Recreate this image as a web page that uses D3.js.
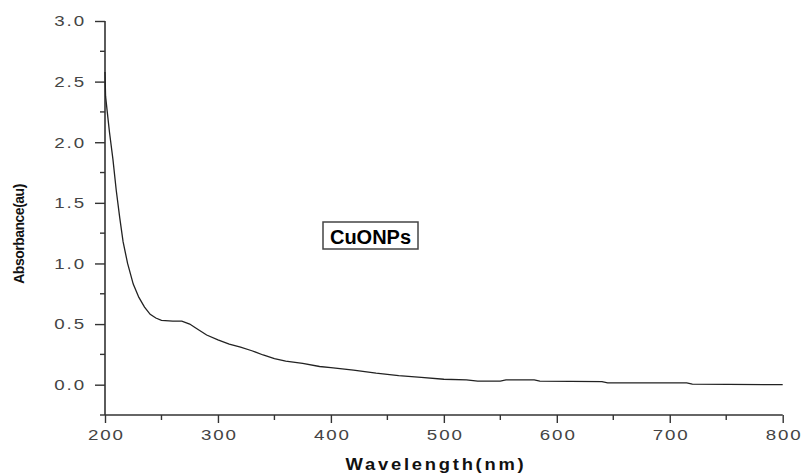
<!DOCTYPE html>
<html>
<head>
<meta charset="utf-8">
<script src="https://cdn.jsdelivr.net/npm/d3@7"></script>
<style>
  body { margin: 0; background: #fff; }
  svg { font-family: "Liberation Sans", Arial, sans-serif; }
</style>
</head>
<body>
<div id="chart"></div>
<script>
// data
var wavelength = [200, 200.5, 202, 204, 207, 210, 213, 216, 220, 225, 230, 235, 240, 245, 250,
  260, 268, 275, 280, 290, 300, 310, 320, 330, 340, 350, 360, 375, 390, 400, 420, 440, 460,
  480, 500, 520, 530, 550, 555, 580, 585, 640, 645, 715, 720, 800];
var absorbance = [2.58, 2.38, 2.25, 2.08, 1.86, 1.60, 1.38, 1.18, 1.00, 0.83, 0.72, 0.64, 0.58, 0.55, 0.53,
  0.525, 0.525, 0.50, 0.47, 0.41, 0.37, 0.335, 0.31, 0.28, 0.245, 0.215, 0.195, 0.175, 0.15, 0.14, 0.12, 0.095, 0.075,
  0.06, 0.045, 0.04, 0.03, 0.03, 0.04, 0.04, 0.03, 0.025, 0.015, 0.015, 0.005, 0.0];
var xTicks = [200, 300, 400, 500, 600, 700, 800];
var xMinor = [250, 350, 450, 550, 650, 750];
var yTicks = [0.0, 0.5, 1.0, 1.5, 2.0, 2.5, 3.0];
var yMinor = [-0.25, 0.25, 0.75, 1.25, 1.75, 2.25, 2.75];
var sampleLabel = 'CuONPs';

var width = 803, height = 475;
var margin = { left: 105, right: 782.7, top: 21, bottom: 415 };
var stretch = 1.25;

var svg = d3.select('#chart').append('svg')
  .attr('width', width)
  .attr('height', height);

var x = d3.scaleLinear().domain([200, 800]).range([margin.left, margin.right]);
var y = d3.scaleLinear().domain([-0.25, 3.0]).range([margin.bottom, margin.top]);

// 坐标轴
var xAxis = svg.append('g')
  .attr('transform', 'translate(0,' + margin.bottom + ')')
  .call(d3.axisBottom(x).tickValues(xTicks).tickFormat(d3.format('d')).tickSize(8).tickPadding(6));
xAxis.append('g').attr('class', 'minor').selectAll('line')
  .data(xMinor).enter().append('line')
  .attr('x1', function (d) { return x(d); })
  .attr('x2', function (d) { return x(d); })
  .attr('y1', 0).attr('y2', 5);

var yAxis = svg.append('g')
  .attr('transform', 'translate(' + margin.left + ',0)')
  .call(d3.axisLeft(y).tickValues(yTicks).tickFormat(d3.format('.1f')).tickSize(10).tickPadding(9));
yAxis.append('g').attr('class', 'minor').selectAll('line')
  .data(yMinor).enter().append('line')
  .attr('x1', 0).attr('x2', -5)
  .attr('y1', function (d) { return y(d); })
  .attr('y2', function (d) { return y(d); });

xAxis.select('.domain').attr('d', 'M' + margin.left + ',0H' + margin.right);
yAxis.select('.domain').attr('d', 'M0,' + margin.top + 'V' + margin.bottom);
svg.selectAll('.domain').attr('stroke', '#333').attr('stroke-width', 1.6);
svg.selectAll('.tick line, .minor line').attr('stroke', '#333').attr('stroke-width', 1.4);
svg.selectAll('.tick text')
  .attr('fill', '#444')
  .style('font-size', '15px')
  .style('letter-spacing', '1.5px');
// 文字横向拉宽
xAxis.selectAll('.tick text')
  .attr('dx', '0.75px')
  .attr('transform', 'scale(' + stretch + ',1)');
yAxis.selectAll('.tick text')
  .attr('x', -19 / stretch)
  .attr('transform', 'scale(' + stretch + ',1)');

// 曲线
var line = d3.line()
  .x(function (d) { return x(d[0]); })
  .y(function (d) { return y(d[1]); });
svg.append('path')
  .datum(wavelength.map(function (w, i) { return [w, absorbance[i]]; }))
  .attr('fill', 'none')
  .attr('stroke', '#222')
  .attr('stroke-width', 1.3)
  .attr('d', line);

// 标签
svg.append('rect')
  .attr('x', 323).attr('y', 222)
  .attr('width', 95).attr('height', 27)
  .attr('fill', '#fff')
  .attr('stroke', '#444')
  .attr('stroke-width', 1.5);
svg.append('text')
  .attr('x', 370.5).attr('y', 243.5)
  .attr('text-anchor', 'middle')
  .style('font-size', '20px')
  .style('font-weight', 'bold')
  .text(sampleLabel);

svg.append('text')
  .attr('transform', 'translate(436,470) scale(1.15,1)')
  .attr('text-anchor', 'middle')
  .attr('fill', '#111')
  .style('font-size', '16px')
  .style('font-weight', 'bold')
  .style('letter-spacing', '2.4px')
  .text('Wavelength(nm)');

svg.append('text')
  .attr('transform', 'translate(24,234) rotate(-90)')
  .attr('text-anchor', 'middle')
  .attr('fill', '#111')
  .style('font-size', '14px')
  .style('font-weight', 'bold')
  .style('letter-spacing', '-0.5px')
  .text('Absorbance(au)');
</script>
</body>
</html>
